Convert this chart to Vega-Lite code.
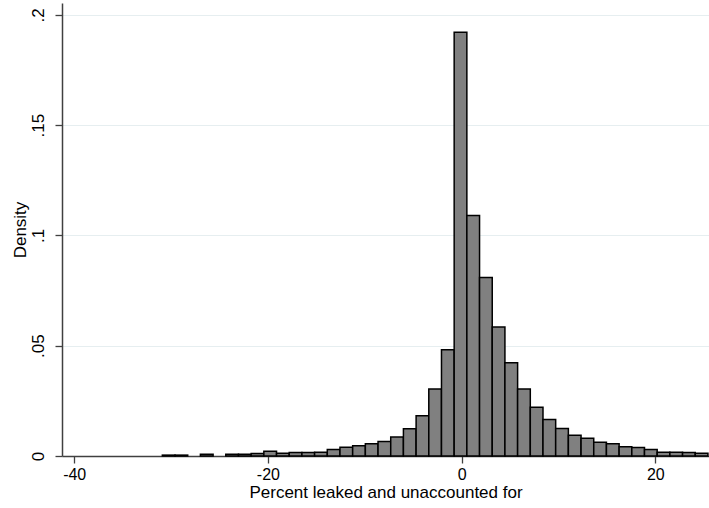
{
  "$schema": "https://vega.github.io/schema/vega-lite/v6.json",
  "width": 647,
  "height": 453,
  "autosize": {"type": "none"},
  "padding": {"left": 62, "top": 3, "right": 0, "bottom": 52},
  "background": "white",
  "config": {"view": {"stroke": null}, "font": "Liberation Sans"},
  "data": {
    "values": [
      {"lo": -30.90, "hi": -29.59, "density": 0.0004},
      {"lo": -29.59, "hi": -28.28, "density": 0.0004},
      {"lo": -26.97, "hi": -25.66, "density": 0.0008},
      {"lo": -24.35, "hi": -23.04, "density": 0.0008},
      {"lo": -23.04, "hi": -21.73, "density": 0.0008},
      {"lo": -21.73, "hi": -20.42, "density": 0.0011},
      {"lo": -20.42, "hi": -19.11, "density": 0.0022},
      {"lo": -19.11, "hi": -17.80, "density": 0.0012},
      {"lo": -17.80, "hi": -16.49, "density": 0.0016},
      {"lo": -16.49, "hi": -15.18, "density": 0.0016},
      {"lo": -15.18, "hi": -13.87, "density": 0.0017},
      {"lo": -13.87, "hi": -12.56, "density": 0.0029},
      {"lo": -12.56, "hi": -11.25, "density": 0.0040},
      {"lo": -11.25, "hi": -9.94, "density": 0.0047},
      {"lo": -9.94, "hi": -8.63, "density": 0.0055},
      {"lo": -8.63, "hi": -7.32, "density": 0.0066},
      {"lo": -7.32, "hi": -6.01, "density": 0.0086},
      {"lo": -6.01, "hi": -4.70, "density": 0.0124},
      {"lo": -4.70, "hi": -3.39, "density": 0.0183},
      {"lo": -3.39, "hi": -2.08, "density": 0.0304},
      {"lo": -2.08, "hi": -0.77, "density": 0.0482},
      {"lo": -0.77, "hi": 0.54, "density": 0.1921},
      {"lo": 0.54, "hi": 1.85, "density": 0.1090},
      {"lo": 1.85, "hi": 3.16, "density": 0.0809},
      {"lo": 3.16, "hi": 4.47, "density": 0.0585},
      {"lo": 4.47, "hi": 5.78, "density": 0.0423},
      {"lo": 5.78, "hi": 7.09, "density": 0.0304},
      {"lo": 7.09, "hi": 8.40, "density": 0.0221},
      {"lo": 8.40, "hi": 9.71, "density": 0.0165},
      {"lo": 9.71, "hi": 11.02, "density": 0.0125},
      {"lo": 11.02, "hi": 12.33, "density": 0.0094},
      {"lo": 12.33, "hi": 13.64, "density": 0.0080},
      {"lo": 13.64, "hi": 14.95, "density": 0.0062},
      {"lo": 14.95, "hi": 16.26, "density": 0.0056},
      {"lo": 16.26, "hi": 17.57, "density": 0.0042},
      {"lo": 17.57, "hi": 18.88, "density": 0.0038},
      {"lo": 18.88, "hi": 20.19, "density": 0.0029},
      {"lo": 20.19, "hi": 21.50, "density": 0.0017},
      {"lo": 21.50, "hi": 22.81, "density": 0.0017},
      {"lo": 22.81, "hi": 24.12, "density": 0.0016},
      {"lo": 24.12, "hi": 25.43, "density": 0.0012}
    ]
  },
  "mark": {"type": "rect", "fill": "#808080", "stroke": "#000000", "strokeWidth": 1.5},
  "encoding": {
    "x": {
      "field": "lo",
      "type": "quantitative",
      "scale": {"domain": [-41.26, 25.54], "nice": false, "zero": false},
      "axis": {
        "values": [-40, -20, 0, 20],
        "labelExpr": "toString(datum.value)",
        "grid": false,
        "tickSize": 7,
        "tickColor": "#404040",
        "tickWidth": 1.3,
        "domainColor": "#404040",
        "domainWidth": 1.5,
        "labelFontSize": 16,
        "labelColor": "#000000",
        "labelPadding": 3,
        "labelFlush": false,
        "title": "Percent leaked and unaccounted for",
        "titleFontSize": 17,
        "titleFontWeight": "normal",
        "titleColor": "#000000",
        "titlePadding": 2
      }
    },
    "x2": {"field": "hi"},
    "y": {
      "field": "density",
      "type": "quantitative",
      "scale": {"domain": [0, 0.2054], "nice": false},
      "axis": {
        "values": [0, 0.05, 0.1, 0.15, 0.2],
        "labelExpr": "datum.value == 0 ? '0' : slice(toString(datum.value), 1)",
        "grid": true,
        "gridColor": "#e6eef0",
        "gridWidth": 1.2,
        "tickSize": 7,
        "tickColor": "#404040",
        "tickWidth": 1.3,
        "domainColor": "#404040",
        "domainWidth": 1.5,
        "labelFontSize": 17,
        "labelColor": "#000000",
        "labelAngle": -90,
        "labelAlign": "center",
        "labelBaseline": "alphabetic",
        "labelPadding": 12,
        "labelFlush": false,
        "title": "Density",
        "titleFontSize": 17,
        "titleFontWeight": "normal",
        "titleColor": "#000000",
        "titleAngle": -90,
        "titleBaseline": "alphabetic",
        "titleX": -37
      }
    },
    "y2": {"datum": 0}
  }
}
